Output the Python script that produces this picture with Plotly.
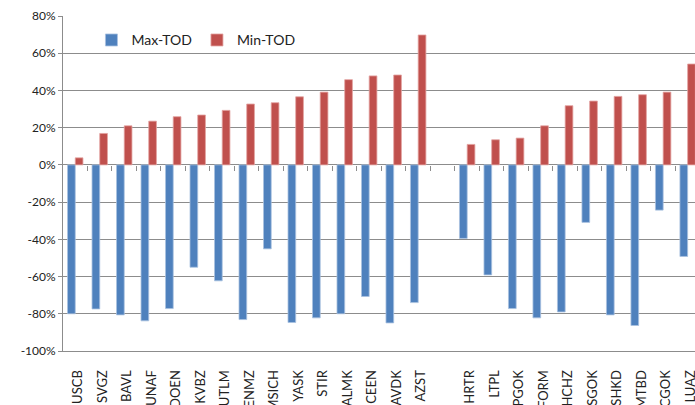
import plotly.graph_objects as go

categories = ["USCB", "SVGZ", "BAVL", "UNAF", "DOEN", "KVBZ", "UTLM", "ENMZ", "MSICH",
              "YASK", "STIR", "ALMK", "CEEN", "AVDK", "AZST", " ",
              "HRTR", "LTPL", "PGOK", "FORM", "HCHZ", "SGOK", "SHKD", "MTBD", "CGOK", "LUAZ"]

max_tod = [-80, -77.4, -80.6, -83.8, -77.2, -55, -62.3, -83.1, -45.1,
           -84.7, -82.2, -80, -70.7, -84.9, -74, None,
           -39.5, -59.1, -77.2, -82.2, -79, -30.9, -80.6, -86.3, -24.3, -49.2]

min_tod = [3.8, 16.9, 21, 23.5, 25.9, 26.8, 29.3, 32.7, 33.4,
           36.6, 39.1, 45.8, 47.8, 48.3, 69.8, None,
           11, 13.5, 14.4, 21, 31.8, 34.3, 36.8, 37.7, 39.1, 54.2]

y_ticks = [-100, -80, -60, -40, -20, 0, 20, 40, 60, 80]
y_tick_labels = ["-100%", "-80%", "-60%", "-40%", "-20%", "0%", "20%", "40%", "60%", "80%"]

FONT = "Lato"
GRID = "#8c8c8c"

fig = go.Figure()
fig.add_trace(go.Bar(x=categories, y=max_tod, name="Max-TOD",
                     marker=dict(color="#4f81bd", line=dict(color="#a9c1e0", width=0.8))))
fig.add_trace(go.Bar(x=categories, y=min_tod, name="Min-TOD",
                     marker=dict(color="#c0504d", line=dict(color="#e3a3a1", width=0.8))))

n = len(categories)
x_range = [-0.5, 25.3]
ymin, ymax = -100, 80

# invisible helper trace for the category tick marks along the 0% line
fig.add_trace(go.Scatter(x=[x_range[0]], y=[0], xaxis="x2", mode="markers",
                         marker=dict(opacity=0), showlegend=False, hoverinfo="skip"))

fig.update_layout(
    width=695, height=405,
    margin=dict(l=63, r=0, t=16, b=54, autoexpand=False),
    paper_bgcolor="white", plot_bgcolor="white",
    barmode="group", bargap=0.37, bargroupgap=0,
    font=dict(family=FONT, color="#333333"),
    showlegend=True,
    legend=dict(orientation="h", x=0.045, y=0.975, xanchor="left", yanchor="top",
                font=dict(size=14, family=FONT, color="#222222"),
                bgcolor="rgba(0,0,0,0)", itemwidth=30, tracegroupgap=0),
    xaxis=dict(type="category", range=x_range, showgrid=False, ticks="",
               tickangle=-90, tickfont=dict(size=13, family=FONT, color="#222222"),
               showline=True, linecolor=GRID, linewidth=1, automargin=False,
               ticklabelstandoff=13, ticklabelshift=3, fixedrange=True),
    xaxis2=dict(overlaying="x", anchor="free", position=(0 - ymin) / (ymax - ymin),
                range=x_range, tickvals=[i + 0.5 for i in range(n - 1)],
                showticklabels=False, ticks="outside", ticklen=5, tickcolor=GRID,
                tickwidth=1, showgrid=False, showline=False, zeroline=False,
                automargin=False),
    yaxis=dict(range=[ymin, ymax], tickvals=y_ticks, ticktext=y_tick_labels,
               showgrid=True, gridcolor=GRID, gridwidth=1,
               zeroline=True, zerolinecolor=GRID, zerolinewidth=1,
               showline=True, linecolor=GRID, linewidth=1, automargin=False,
               ticks="outside", ticklen=4, tickcolor=GRID,
               tickfont=dict(size=12, family=FONT, color="#222222")),
)

fig.write_html("out.html", config={"displayModeBar": False},
               post_script="document.body.style.margin='0';document.body.style.overflow='hidden';")
